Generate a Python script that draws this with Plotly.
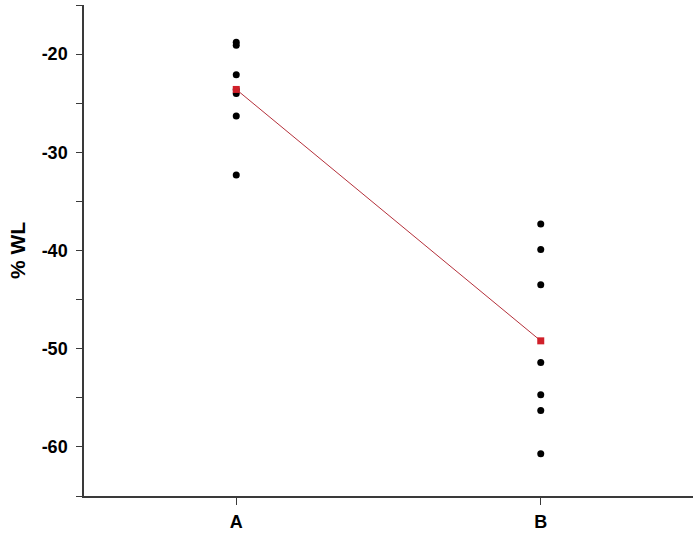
import plotly.graph_objects as go

# individual values per group
groups = ["A", "B"]
values_a = [-18.8, -19.1, -22.1, -23.6, -24.0, -26.3, -32.3]
values_b = [-37.3, -39.9, -43.5, -51.4, -54.7, -56.3, -60.7]
group_means = [-23.6, -49.2]

y_ticks = [-20, -30, -40, -50, -60]

font_bold = dict(family="Liberation Sans, Arial", size=18, color="black", weight="bold")

fig = go.Figure()
fig.add_trace(
    go.Scatter(
        x=[groups[0]] * len(values_a) + [groups[1]] * len(values_b),
        y=values_a + values_b,
        mode="markers",
        marker=dict(color="black", size=7),
        showlegend=False,
        hoverinfo="y",
    )
)
fig.add_trace(
    go.Scatter(
        x=groups,
        y=group_means,
        mode="lines+markers",
        line=dict(color="#b4303a", width=1),
        marker=dict(color="#d0202a", size=7, symbol="square"),
        showlegend=False,
        hoverinfo="y",
    )
)

fig.update_xaxes(
    type="category",
    range=[-0.5, 1.5],
    showline=True,
    linecolor="#3a3a3a",
    linewidth=1.5,
    ticks="outside",
    ticklen=7,
    tickcolor="#3a3a3a",
    tickfont=font_bold,
    ticklabelstandoff=2,
    showgrid=False,
    zeroline=False,
)
fig.update_yaxes(
    range=[-65, -15],
    tickvals=y_ticks,
    ticktext=[str(v) for v in y_ticks],
    showline=True,
    linecolor="#3a3a3a",
    linewidth=1.5,
    ticks="outside",
    ticklen=6,
    tickcolor="#3a3a3a",
    tickfont=font_bold,
    ticklabelstandoff=5,
    minor=dict(dtick=5, tick0=0, ticks="outside", ticklen=6, tickcolor="#3a3a3a"),
    showgrid=False,
    zeroline=False,
    title=dict(text="% WL", font=dict(family="Liberation Sans, Arial", size=21, color="black", weight="bold"), standoff=10),
)
fig.update_layout(
    width=699,
    height=537,
    autosize=False,
    plot_bgcolor="white",
    paper_bgcolor="white",
    margin=dict(l=84, r=6, t=5, b=39),
)

# drop the browser's default page margin so the figure sits at the window corner
fig.write_html(
    "out.html",
    config={"displayModeBar": False},
    post_script="document.body.style.margin = '0';",
)
